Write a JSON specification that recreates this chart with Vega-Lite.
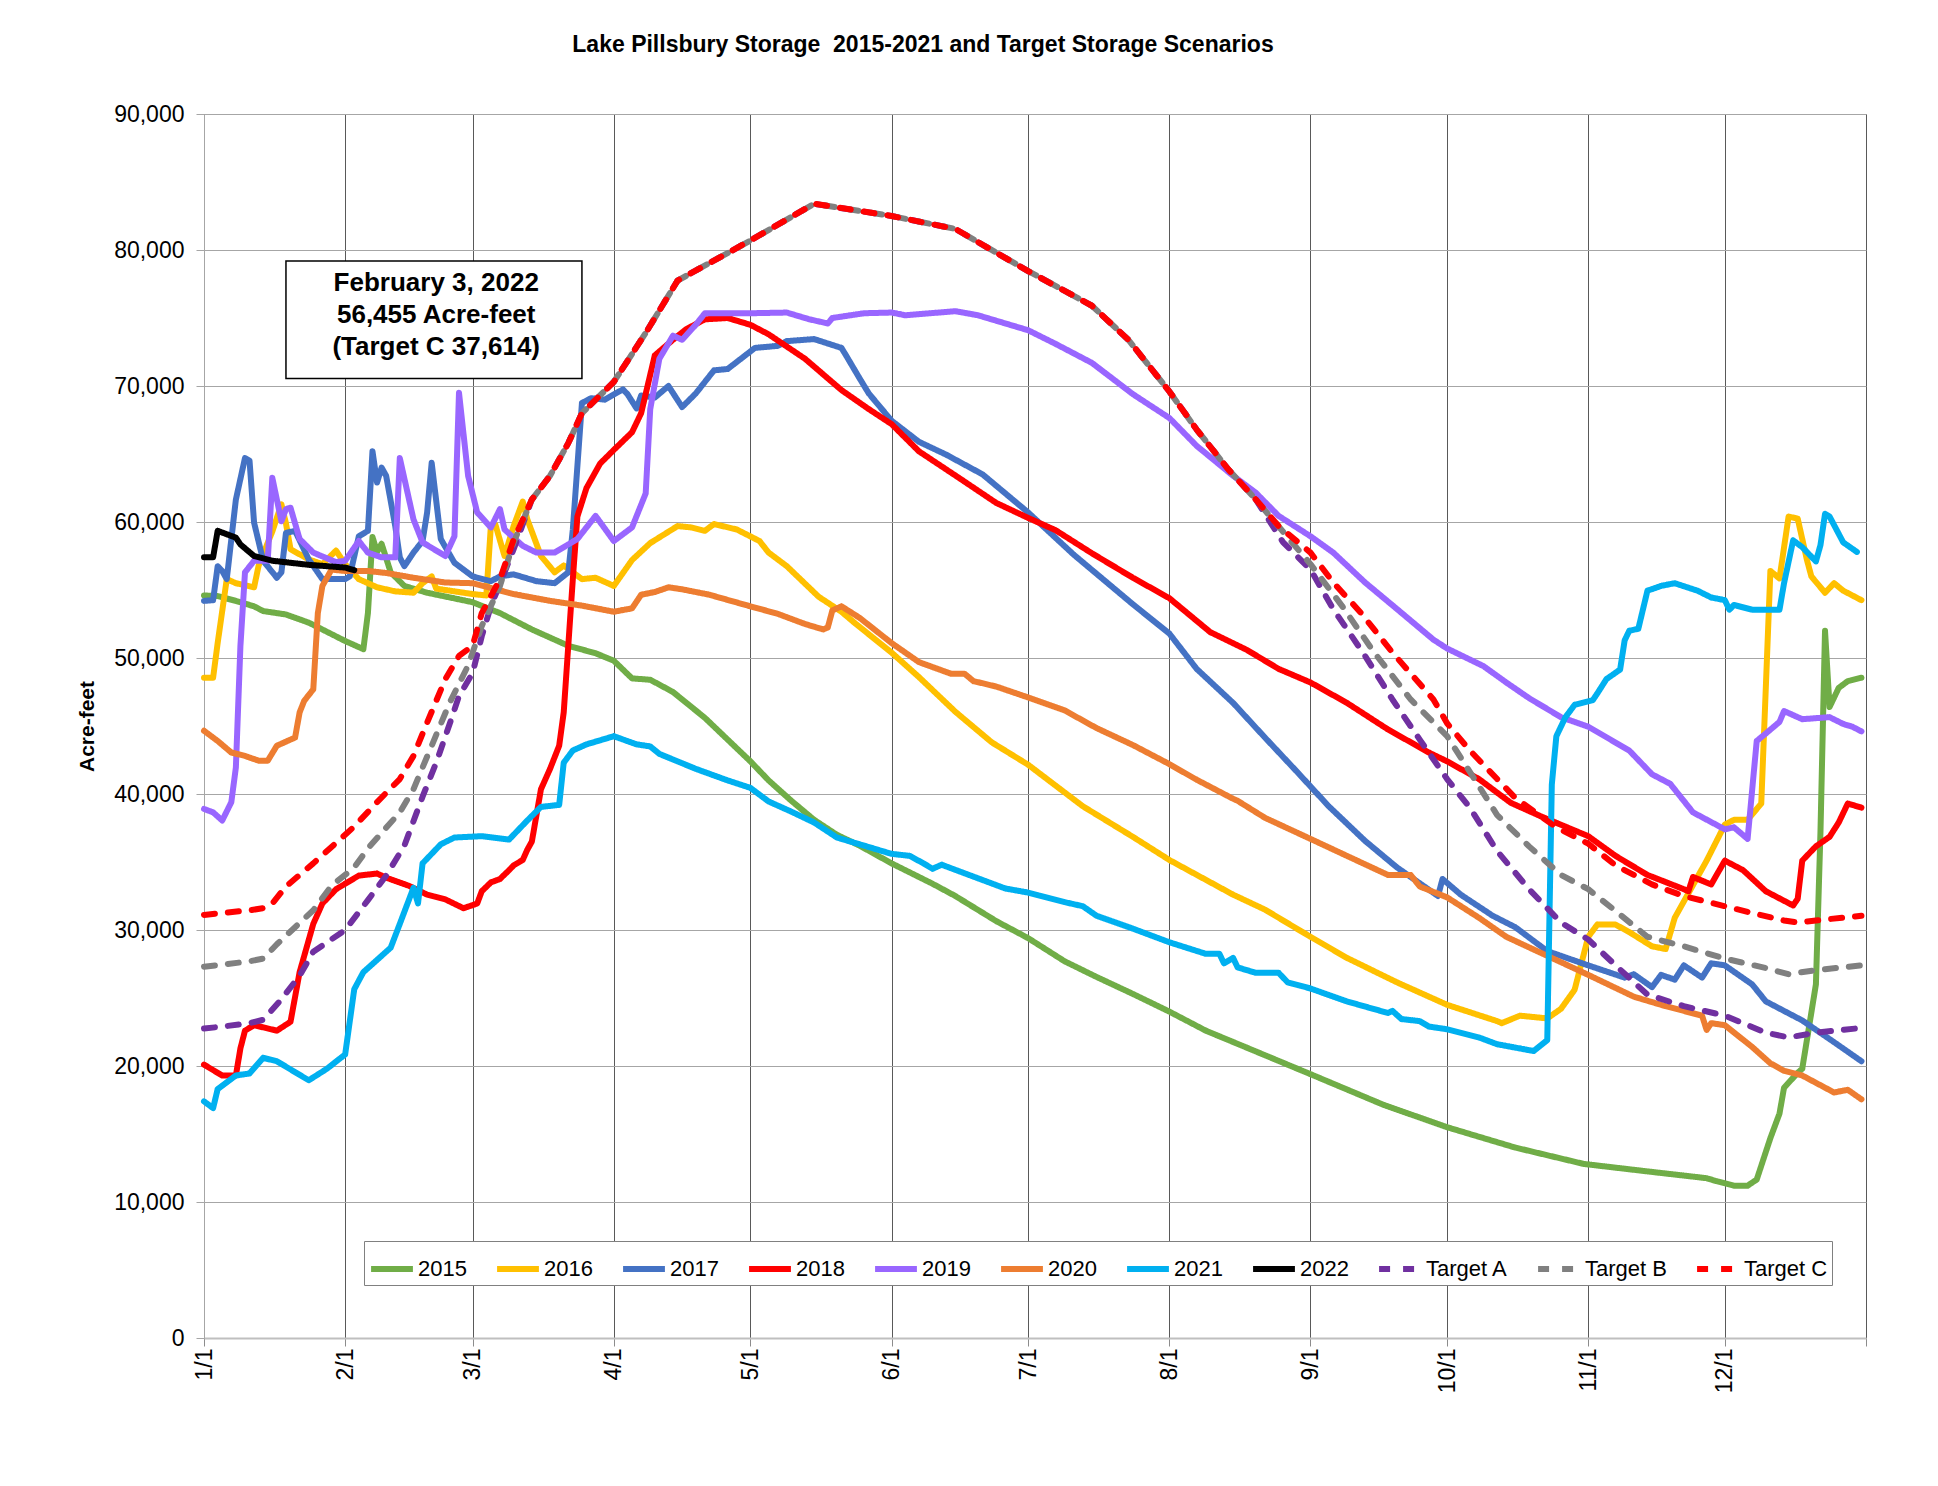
{
  "$schema": "https://vega.github.io/schema/vega-lite/v6.json",
  "width": 1662,
  "height": 1224,
  "autosize": {"type": "none"},
  "padding": {"left": 204, "top": 114, "right": 72, "bottom": 148},
  "background": "white",
  "config": {"font": "Liberation Sans", "view": {"stroke": "#8c8c8c", "strokeWidth": 1}},
  "title": {"text": "Lake Pillsbury Storage\u00a0 2015-2021 and Target Storage Scenarios", "fontSize": 23, "fontWeight": "bold", "font": "Liberation Sans", "color": "#000000", "anchor": "middle", "dx": -112, "offset": 46},
  "datasets": {
    "box": [{"start": "2021-01-19", "end": "2021-03-25", "low": 70550, "high": 79200}],
    "note": [
      {"date": "2021-02-21", "value": 77550, "label": "February 3, 2022"},
      {"date": "2021-02-21", "value": 75200, "label": "56,455 Acre-feet"},
      {"date": "2021-02-21", "value": 72850, "label": "(Target C 37,614)"}
    ],
    "storage": [
      {"series":"2015","date":"2021-01-01","value":54600},{"series":"2015","date":"2021-01-04","value":54550},{"series":"2015","date":"2021-01-08","value":54200},{"series":"2015","date":"2021-01-12","value":53800},{"series":"2015","date":"2021-01-14","value":53450},{"series":"2015","date":"2021-01-19","value":53200},{"series":"2015","date":"2021-01-24","value":52600},{"series":"2015","date":"2021-02-01","value":51250},{"series":"2015","date":"2021-02-05","value":50650},{"series":"2015","date":"2021-02-06","value":53300},{"series":"2015","date":"2021-02-07","value":58900},{"series":"2015","date":"2021-02-08","value":57800},{"series":"2015","date":"2021-02-09","value":58400},{"series":"2015","date":"2021-02-11","value":56300},{"series":"2015","date":"2021-02-14","value":55300},{"series":"2015","date":"2021-02-19","value":54800},{"series":"2015","date":"2021-03-01","value":54100},{"series":"2015","date":"2021-03-07","value":53300},{"series":"2015","date":"2021-03-14","value":52100},{"series":"2015","date":"2021-03-22","value":50900},{"series":"2015","date":"2021-03-28","value":50350},{"series":"2015","date":"2021-04-01","value":49800},{"series":"2015","date":"2021-04-05","value":48500},{"series":"2015","date":"2021-04-09","value":48400},{"series":"2015","date":"2021-04-14","value":47500},{"series":"2015","date":"2021-04-21","value":45600},{"series":"2015","date":"2021-05-01","value":42400},{"series":"2015","date":"2021-05-05","value":41000},{"series":"2015","date":"2021-05-10","value":39500},{"series":"2015","date":"2021-05-15","value":38100},{"series":"2015","date":"2021-05-20","value":37000},{"series":"2015","date":"2021-05-25","value":36200},{"series":"2015","date":"2021-06-01","value":34900},{"series":"2015","date":"2021-06-10","value":33400},{"series":"2015","date":"2021-06-15","value":32500},{"series":"2015","date":"2021-06-24","value":30650},{"series":"2015","date":"2021-07-01","value":29400},{"series":"2015","date":"2021-07-09","value":27700},{"series":"2015","date":"2021-07-16","value":26550},{"series":"2015","date":"2021-07-24","value":25300},{"series":"2015","date":"2021-08-01","value":24000},{"series":"2015","date":"2021-08-09","value":22600},{"series":"2015","date":"2021-08-18","value":21350},{"series":"2015","date":"2021-09-01","value":19400},{"series":"2015","date":"2021-09-17","value":17150},{"series":"2015","date":"2021-10-01","value":15500},{"series":"2015","date":"2021-10-16","value":14000},{"series":"2015","date":"2021-10-31","value":12800},{"series":"2015","date":"2021-11-14","value":12250},{"series":"2015","date":"2021-11-27","value":11750},{"series":"2015","date":"2021-11-29","value":11550},{"series":"2015","date":"2021-12-03","value":11200},{"series":"2015","date":"2021-12-06","value":11200},{"series":"2015","date":"2021-12-08","value":11650},{"series":"2015","date":"2021-12-11","value":14700},{"series":"2015","date":"2021-12-13","value":16500},{"series":"2015","date":"2021-12-14","value":18400},{"series":"2015","date":"2021-12-17","value":19500},{"series":"2015","date":"2021-12-18","value":19800},{"series":"2015","date":"2021-12-21","value":26000},{"series":"2015","date":"2021-12-22","value":37200},{"series":"2015","date":"2021-12-23","value":52000},{"series":"2015","date":"2021-12-24","value":46400},{"series":"2015","date":"2021-12-26","value":47800},{"series":"2015","date":"2021-12-28","value":48300},{"series":"2015","date":"2021-12-31","value":48550},

      {"series":"2016","date":"2021-01-01","value":48550},{"series":"2016","date":"2021-01-03","value":48550},{"series":"2016","date":"2021-01-04","value":51100},{"series":"2016","date":"2021-01-06","value":55800},{"series":"2016","date":"2021-01-08","value":55500},{"series":"2016","date":"2021-01-12","value":55200},{"series":"2016","date":"2021-01-13","value":56800},{"series":"2016","date":"2021-01-16","value":59300},{"series":"2016","date":"2021-01-18","value":61300},{"series":"2016","date":"2021-01-19","value":59900},{"series":"2016","date":"2021-01-20","value":58000},{"series":"2016","date":"2021-01-24","value":57250},{"series":"2016","date":"2021-01-27","value":56900},{"series":"2016","date":"2021-01-30","value":57900},{"series":"2016","date":"2021-02-01","value":56900},{"series":"2016","date":"2021-02-04","value":55800},{"series":"2016","date":"2021-02-08","value":55200},{"series":"2016","date":"2021-02-12","value":54900},{"series":"2016","date":"2021-02-16","value":54800},{"series":"2016","date":"2021-02-18","value":55500},{"series":"2016","date":"2021-02-20","value":56000},{"series":"2016","date":"2021-02-21","value":55100},{"series":"2016","date":"2021-03-01","value":54700},{"series":"2016","date":"2021-03-04","value":54600},{"series":"2016","date":"2021-03-05","value":59700},{"series":"2016","date":"2021-03-06","value":59800},{"series":"2016","date":"2021-03-08","value":57500},{"series":"2016","date":"2021-03-10","value":59700},{"series":"2016","date":"2021-03-12","value":61500},{"series":"2016","date":"2021-03-13","value":60200},{"series":"2016","date":"2021-03-16","value":57500},{"series":"2016","date":"2021-03-19","value":56300},{"series":"2016","date":"2021-03-21","value":56800},{"series":"2016","date":"2021-03-25","value":55800},{"series":"2016","date":"2021-03-28","value":55900},{"series":"2016","date":"2021-04-01","value":55300},{"series":"2016","date":"2021-04-05","value":57200},{"series":"2016","date":"2021-04-09","value":58450},{"series":"2016","date":"2021-04-15","value":59700},{"series":"2016","date":"2021-04-18","value":59600},{"series":"2016","date":"2021-04-21","value":59350},{"series":"2016","date":"2021-04-23","value":59850},{"series":"2016","date":"2021-04-28","value":59450},{"series":"2016","date":"2021-05-03","value":58600},{"series":"2016","date":"2021-05-05","value":57750},{"series":"2016","date":"2021-05-09","value":56750},{"series":"2016","date":"2021-05-16","value":54500},{"series":"2016","date":"2021-05-21","value":53400},{"series":"2016","date":"2021-05-24","value":52550},{"series":"2016","date":"2021-06-01","value":50400},{"series":"2016","date":"2021-06-07","value":48600},{"series":"2016","date":"2021-06-15","value":46050},{"series":"2016","date":"2021-06-23","value":43800},{"series":"2016","date":"2021-07-01","value":42150},{"series":"2016","date":"2021-07-13","value":39100},{"series":"2016","date":"2021-07-24","value":36850},{"series":"2016","date":"2021-08-01","value":35150},{"series":"2016","date":"2021-08-15","value":32600},{"series":"2016","date":"2021-08-22","value":31500},{"series":"2016","date":"2021-09-01","value":29500},{"series":"2016","date":"2021-09-09","value":27950},{"series":"2016","date":"2021-09-20","value":26150},{"series":"2016","date":"2021-10-01","value":24500},{"series":"2016","date":"2021-10-12","value":23300},{"series":"2016","date":"2021-10-13","value":23150},{"series":"2016","date":"2021-10-17","value":23700},{"series":"2016","date":"2021-10-23","value":23500},{"series":"2016","date":"2021-10-26","value":24200},{"series":"2016","date":"2021-10-29","value":25600},{"series":"2016","date":"2021-11-01","value":29500},{"series":"2016","date":"2021-11-03","value":30400},{"series":"2016","date":"2021-11-07","value":30400},{"series":"2016","date":"2021-11-10","value":29850},{"series":"2016","date":"2021-11-15","value":28800},{"series":"2016","date":"2021-11-18","value":28600},{"series":"2016","date":"2021-11-20","value":30900},{"series":"2016","date":"2021-11-22","value":32100},{"series":"2016","date":"2021-11-27","value":35100},{"series":"2016","date":"2021-12-01","value":37750},{"series":"2016","date":"2021-12-03","value":38100},{"series":"2016","date":"2021-12-06","value":38100},{"series":"2016","date":"2021-12-09","value":39300},{"series":"2016","date":"2021-12-11","value":56400},{"series":"2016","date":"2021-12-13","value":55850},{"series":"2016","date":"2021-12-15","value":60400},{"series":"2016","date":"2021-12-17","value":60250},{"series":"2016","date":"2021-12-19","value":57250},{"series":"2016","date":"2021-12-20","value":56000},{"series":"2016","date":"2021-12-23","value":54800},{"series":"2016","date":"2021-12-25","value":55500},{"series":"2016","date":"2021-12-27","value":54950},{"series":"2016","date":"2021-12-31","value":54250},

      {"series":"2017","date":"2021-01-01","value":54200},{"series":"2017","date":"2021-01-03","value":54250},{"series":"2017","date":"2021-01-04","value":56750},{"series":"2017","date":"2021-01-05","value":56400},{"series":"2017","date":"2021-01-06","value":55800},{"series":"2017","date":"2021-01-08","value":61650},{"series":"2017","date":"2021-01-10","value":64700},{"series":"2017","date":"2021-01-11","value":64500},{"series":"2017","date":"2021-01-12","value":59950},{"series":"2017","date":"2021-01-14","value":57150},{"series":"2017","date":"2021-01-17","value":55900},{"series":"2017","date":"2021-01-18","value":56300},{"series":"2017","date":"2021-01-19","value":59200},{"series":"2017","date":"2021-01-21","value":59350},{"series":"2017","date":"2021-01-24","value":57250},{"series":"2017","date":"2021-01-27","value":55800},{"series":"2017","date":"2021-02-01","value":55800},{"series":"2017","date":"2021-02-02","value":56000},{"series":"2017","date":"2021-02-04","value":58950},{"series":"2017","date":"2021-02-06","value":59350},{"series":"2017","date":"2021-02-07","value":65200},{"series":"2017","date":"2021-02-08","value":62900},{"series":"2017","date":"2021-02-09","value":64000},{"series":"2017","date":"2021-02-10","value":63400},{"series":"2017","date":"2021-02-12","value":59700},{"series":"2017","date":"2021-02-13","value":57400},{"series":"2017","date":"2021-02-14","value":56750},{"series":"2017","date":"2021-02-16","value":57750},{"series":"2017","date":"2021-02-18","value":58600},{"series":"2017","date":"2021-02-19","value":60700},{"series":"2017","date":"2021-02-20","value":64350},{"series":"2017","date":"2021-02-22","value":58750},{"series":"2017","date":"2021-02-25","value":57000},{"series":"2017","date":"2021-03-01","value":56000},{"series":"2017","date":"2021-03-05","value":55650},{"series":"2017","date":"2021-03-07","value":56000},{"series":"2017","date":"2021-03-10","value":56150},{"series":"2017","date":"2021-03-15","value":55650},{"series":"2017","date":"2021-03-19","value":55500},{"series":"2017","date":"2021-03-22","value":56300},{"series":"2017","date":"2021-03-23","value":59450},{"series":"2017","date":"2021-03-25","value":68750},{"series":"2017","date":"2021-03-27","value":69100},{"series":"2017","date":"2021-03-30","value":69000},{"series":"2017","date":"2021-04-03","value":69750},{"series":"2017","date":"2021-04-04","value":69400},{"series":"2017","date":"2021-04-06","value":68350},{"series":"2017","date":"2021-04-07","value":69300},{"series":"2017","date":"2021-04-10","value":69150},{"series":"2017","date":"2021-04-13","value":70000},{"series":"2017","date":"2021-04-16","value":68450},{"series":"2017","date":"2021-04-19","value":69450},{"series":"2017","date":"2021-04-23","value":71150},{"series":"2017","date":"2021-04-26","value":71250},{"series":"2017","date":"2021-05-02","value":72800},{"series":"2017","date":"2021-05-07","value":72950},{"series":"2017","date":"2021-05-09","value":73300},{"series":"2017","date":"2021-05-15","value":73450},{"series":"2017","date":"2021-05-21","value":72800},{"series":"2017","date":"2021-05-22","value":72250},{"series":"2017","date":"2021-05-25","value":70550},{"series":"2017","date":"2021-05-27","value":69450},{"series":"2017","date":"2021-06-01","value":67450},{"series":"2017","date":"2021-06-07","value":65900},{"series":"2017","date":"2021-06-13","value":64950},{"series":"2017","date":"2021-06-21","value":63500},{"series":"2017","date":"2021-07-01","value":60700},{"series":"2017","date":"2021-07-11","value":57600},{"series":"2017","date":"2021-07-24","value":53950},{"series":"2017","date":"2021-08-01","value":51800},{"series":"2017","date":"2021-08-07","value":49200},{"series":"2017","date":"2021-08-15","value":46700},{"series":"2017","date":"2021-08-22","value":44150},{"series":"2017","date":"2021-08-29","value":41650},{"series":"2017","date":"2021-09-05","value":39100},{"series":"2017","date":"2021-09-13","value":36550},{"series":"2017","date":"2021-09-20","value":34600},{"series":"2017","date":"2021-09-29","value":32500},{"series":"2017","date":"2021-09-30","value":33750},{"series":"2017","date":"2021-10-04","value":32600},{"series":"2017","date":"2021-10-11","value":31050},{"series":"2017","date":"2021-10-16","value":30200},{"series":"2017","date":"2021-10-23","value":28450},{"series":"2017","date":"2021-11-01","value":27400},{"series":"2017","date":"2021-11-09","value":26500},{"series":"2017","date":"2021-11-11","value":26750},{"series":"2017","date":"2021-11-15","value":25800},{"series":"2017","date":"2021-11-17","value":26700},{"series":"2017","date":"2021-11-20","value":26350},{"series":"2017","date":"2021-11-22","value":27400},{"series":"2017","date":"2021-11-26","value":26500},{"series":"2017","date":"2021-11-28","value":27550},{"series":"2017","date":"2021-12-01","value":27400},{"series":"2017","date":"2021-12-07","value":26000},{"series":"2017","date":"2021-12-10","value":24750},{"series":"2017","date":"2021-12-18","value":23350},{"series":"2017","date":"2021-12-25","value":21750},{"series":"2017","date":"2021-12-31","value":20350},

      {"series":"2018","date":"2021-01-01","value":20100},{"series":"2018","date":"2021-01-05","value":19300},{"series":"2018","date":"2021-01-08","value":19300},{"series":"2018","date":"2021-01-09","value":21300},{"series":"2018","date":"2021-01-10","value":22600},{"series":"2018","date":"2021-01-12","value":23000},{"series":"2018","date":"2021-01-17","value":22600},{"series":"2018","date":"2021-01-20","value":23250},{"series":"2018","date":"2021-01-22","value":26900},{"series":"2018","date":"2021-01-25","value":30450},{"series":"2018","date":"2021-01-27","value":31950},{"series":"2018","date":"2021-01-30","value":33000},{"series":"2018","date":"2021-02-04","value":34000},{"series":"2018","date":"2021-02-08","value":34150},{"series":"2018","date":"2021-02-10","value":33850},{"series":"2018","date":"2021-02-15","value":33250},{"series":"2018","date":"2021-02-19","value":32600},{"series":"2018","date":"2021-02-23","value":32250},{"series":"2018","date":"2021-02-27","value":31600},{"series":"2018","date":"2021-03-02","value":31950},{"series":"2018","date":"2021-03-03","value":32850},{"series":"2018","date":"2021-03-05","value":33500},{"series":"2018","date":"2021-03-07","value":33750},{"series":"2018","date":"2021-03-09","value":34400},{"series":"2018","date":"2021-03-10","value":34750},{"series":"2018","date":"2021-03-12","value":35150},{"series":"2018","date":"2021-03-13","value":35900},{"series":"2018","date":"2021-03-14","value":36500},{"series":"2018","date":"2021-03-16","value":40350},{"series":"2018","date":"2021-03-18","value":41850},{"series":"2018","date":"2021-03-20","value":43550},{"series":"2018","date":"2021-03-21","value":46000},{"series":"2018","date":"2021-03-23","value":55800},{"series":"2018","date":"2021-03-24","value":60400},{"series":"2018","date":"2021-03-26","value":62500},{"series":"2018","date":"2021-03-29","value":64300},{"series":"2018","date":"2021-04-01","value":65300},{"series":"2018","date":"2021-04-05","value":66600},{"series":"2018","date":"2021-04-07","value":68000},{"series":"2018","date":"2021-04-10","value":72250},{"series":"2018","date":"2021-04-14","value":73400},{"series":"2018","date":"2021-04-17","value":74200},{"series":"2018","date":"2021-04-21","value":74900},{"series":"2018","date":"2021-04-26","value":75000},{"series":"2018","date":"2021-05-01","value":74500},{"series":"2018","date":"2021-05-05","value":73800},{"series":"2018","date":"2021-05-13","value":72000},{"series":"2018","date":"2021-05-21","value":69700},{"series":"2018","date":"2021-05-27","value":68300},{"series":"2018","date":"2021-06-01","value":67200},{"series":"2018","date":"2021-06-07","value":65200},{"series":"2018","date":"2021-06-16","value":63200},{"series":"2018","date":"2021-06-24","value":61400},{"series":"2018","date":"2021-07-01","value":60300},{"series":"2018","date":"2021-07-07","value":59400},{"series":"2018","date":"2021-07-15","value":57700},{"series":"2018","date":"2021-07-24","value":55900},{"series":"2018","date":"2021-08-01","value":54400},{"series":"2018","date":"2021-08-10","value":51900},{"series":"2018","date":"2021-08-18","value":50600},{"series":"2018","date":"2021-08-25","value":49200},{"series":"2018","date":"2021-09-01","value":48200},{"series":"2018","date":"2021-09-09","value":46700},{"series":"2018","date":"2021-09-18","value":44750},{"series":"2018","date":"2021-09-27","value":43050},{"series":"2018","date":"2021-10-01","value":42400},{"series":"2018","date":"2021-10-08","value":41100},{"series":"2018","date":"2021-10-15","value":39350},{"series":"2018","date":"2021-10-22","value":38300},{"series":"2018","date":"2021-11-01","value":36900},{"series":"2018","date":"2021-11-07","value":35450},{"series":"2018","date":"2021-11-14","value":34050},{"series":"2018","date":"2021-11-22","value":33000},{"series":"2018","date":"2021-11-23","value":32850},{"series":"2018","date":"2021-11-24","value":33900},{"series":"2018","date":"2021-11-28","value":33350},{"series":"2018","date":"2021-12-01","value":35100},{"series":"2018","date":"2021-12-05","value":34400},{"series":"2018","date":"2021-12-10","value":32850},{"series":"2018","date":"2021-12-14","value":32150},{"series":"2018","date":"2021-12-16","value":31800},{"series":"2018","date":"2021-12-17","value":32300},{"series":"2018","date":"2021-12-18","value":35100},{"series":"2018","date":"2021-12-21","value":36150},{"series":"2018","date":"2021-12-24","value":36850},{"series":"2018","date":"2021-12-26","value":37900},{"series":"2018","date":"2021-12-28","value":39300},{"series":"2018","date":"2021-12-31","value":39000},

      {"series":"2019","date":"2021-01-01","value":38900},{"series":"2019","date":"2021-01-03","value":38650},{"series":"2019","date":"2021-01-05","value":38050},{"series":"2019","date":"2021-01-07","value":39400},{"series":"2019","date":"2021-01-08","value":41950},{"series":"2019","date":"2021-01-09","value":50900},{"series":"2019","date":"2021-01-10","value":56300},{"series":"2019","date":"2021-01-12","value":57150},{"series":"2019","date":"2021-01-15","value":57150},{"series":"2019","date":"2021-01-16","value":63250},{"series":"2019","date":"2021-01-18","value":60050},{"series":"2019","date":"2021-01-19","value":60950},{"series":"2019","date":"2021-01-20","value":61050},{"series":"2019","date":"2021-01-22","value":58750},{"series":"2019","date":"2021-01-25","value":57750},{"series":"2019","date":"2021-01-30","value":57050},{"series":"2019","date":"2021-02-01","value":57150},{"series":"2019","date":"2021-02-04","value":58600},{"series":"2019","date":"2021-02-06","value":57750},{"series":"2019","date":"2021-02-09","value":57400},{"series":"2019","date":"2021-02-12","value":57400},{"series":"2019","date":"2021-02-13","value":64700},{"series":"2019","date":"2021-02-16","value":60200},{"series":"2019","date":"2021-02-18","value":58500},{"series":"2019","date":"2021-02-23","value":57500},{"series":"2019","date":"2021-02-25","value":58950},{"series":"2019","date":"2021-02-26","value":69500},{"series":"2019","date":"2021-02-28","value":63400},{"series":"2019","date":"2021-03-02","value":60700},{"series":"2019","date":"2021-03-05","value":59600},{"series":"2019","date":"2021-03-07","value":60950},{"series":"2019","date":"2021-03-08","value":59450},{"series":"2019","date":"2021-03-12","value":58250},{"series":"2019","date":"2021-03-15","value":57750},{"series":"2019","date":"2021-03-19","value":57750},{"series":"2019","date":"2021-03-22","value":58350},{"series":"2019","date":"2021-03-24","value":58750},{"series":"2019","date":"2021-03-28","value":60450},{"series":"2019","date":"2021-04-01","value":58600},{"series":"2019","date":"2021-04-05","value":59600},{"series":"2019","date":"2021-04-08","value":62100},{"series":"2019","date":"2021-04-09","value":68300},{"series":"2019","date":"2021-04-11","value":72000},{"series":"2019","date":"2021-04-14","value":73700},{"series":"2019","date":"2021-04-16","value":73400},{"series":"2019","date":"2021-04-19","value":74500},{"series":"2019","date":"2021-04-21","value":75350},{"series":"2019","date":"2021-05-01","value":75350},{"series":"2019","date":"2021-05-09","value":75400},{"series":"2019","date":"2021-05-14","value":74900},{"series":"2019","date":"2021-05-18","value":74600},{"series":"2019","date":"2021-05-19","value":75000},{"series":"2019","date":"2021-05-26","value":75350},{"series":"2019","date":"2021-06-01","value":75400},{"series":"2019","date":"2021-06-04","value":75200},{"series":"2019","date":"2021-06-15","value":75500},{"series":"2019","date":"2021-06-20","value":75200},{"series":"2019","date":"2021-07-01","value":74100},{"series":"2019","date":"2021-07-07","value":73100},{"series":"2019","date":"2021-07-15","value":71700},{"series":"2019","date":"2021-07-24","value":69400},{"series":"2019","date":"2021-08-01","value":67650},{"series":"2019","date":"2021-08-07","value":65600},{"series":"2019","date":"2021-08-15","value":63400},{"series":"2019","date":"2021-08-20","value":62150},{"series":"2019","date":"2021-08-25","value":60450},{"series":"2019","date":"2021-09-01","value":58950},{"series":"2019","date":"2021-09-06","value":57750},{"series":"2019","date":"2021-09-13","value":55550},{"series":"2019","date":"2021-09-20","value":53600},{"series":"2019","date":"2021-09-28","value":51350},{"series":"2019","date":"2021-10-01","value":50700},{"series":"2019","date":"2021-10-09","value":49400},{"series":"2019","date":"2021-10-14","value":48200},{"series":"2019","date":"2021-10-19","value":47050},{"series":"2019","date":"2021-10-26","value":45650},{"series":"2019","date":"2021-11-01","value":44950},{"series":"2019","date":"2021-11-10","value":43200},{"series":"2019","date":"2021-11-15","value":41450},{"series":"2019","date":"2021-11-19","value":40750},{"series":"2019","date":"2021-11-24","value":38650},{"series":"2019","date":"2021-12-01","value":37400},{"series":"2019","date":"2021-12-03","value":37550},{"series":"2019","date":"2021-12-06","value":36700},{"series":"2019","date":"2021-12-08","value":43900},{"series":"2019","date":"2021-12-10","value":44450},{"series":"2019","date":"2021-12-13","value":45300},{"series":"2019","date":"2021-12-14","value":46100},{"series":"2019","date":"2021-12-18","value":45500},{"series":"2019","date":"2021-12-24","value":45650},{"series":"2019","date":"2021-12-27","value":45150},{"series":"2019","date":"2021-12-29","value":44950},{"series":"2019","date":"2021-12-31","value":44600},

      {"series":"2020","date":"2021-01-01","value":44650},{"series":"2020","date":"2021-01-04","value":43900},{"series":"2020","date":"2021-01-07","value":43050},{"series":"2020","date":"2021-01-10","value":42800},{"series":"2020","date":"2021-01-13","value":42450},{"series":"2020","date":"2021-01-15","value":42450},{"series":"2020","date":"2021-01-17","value":43550},{"series":"2020","date":"2021-01-21","value":44150},{"series":"2020","date":"2021-01-22","value":46000},{"series":"2020","date":"2021-01-23","value":46850},{"series":"2020","date":"2021-01-25","value":47700},{"series":"2020","date":"2021-01-26","value":53300},{"series":"2020","date":"2021-01-27","value":55300},{"series":"2020","date":"2021-01-29","value":56500},{"series":"2020","date":"2021-02-01","value":56400},{"series":"2020","date":"2021-02-06","value":56400},{"series":"2020","date":"2021-02-10","value":56250},{"series":"2020","date":"2021-02-16","value":55900},{"series":"2020","date":"2021-02-23","value":55550},{"series":"2020","date":"2021-03-01","value":55500},{"series":"2020","date":"2021-03-05","value":55150},{"series":"2020","date":"2021-03-10","value":54700},{"series":"2020","date":"2021-03-18","value":54200},{"series":"2020","date":"2021-03-25","value":53850},{"series":"2020","date":"2021-04-01","value":53400},{"series":"2020","date":"2021-04-05","value":53650},{"series":"2020","date":"2021-04-07","value":54650},{"series":"2020","date":"2021-04-10","value":54850},{"series":"2020","date":"2021-04-13","value":55200},{"series":"2020","date":"2021-04-16","value":55050},{"series":"2020","date":"2021-04-22","value":54650},{"series":"2020","date":"2021-05-01","value":53800},{"series":"2020","date":"2021-05-07","value":53250},{"series":"2020","date":"2021-05-13","value":52500},{"series":"2020","date":"2021-05-17","value":52100},{"series":"2020","date":"2021-05-18","value":52250},{"series":"2020","date":"2021-05-19","value":53500},{"series":"2020","date":"2021-05-21","value":53800},{"series":"2020","date":"2021-05-25","value":52950},{"series":"2020","date":"2021-06-01","value":51100},{"series":"2020","date":"2021-06-07","value":49700},{"series":"2020","date":"2021-06-14","value":48850},{"series":"2020","date":"2021-06-17","value":48850},{"series":"2020","date":"2021-06-19","value":48300},{"series":"2020","date":"2021-06-24","value":47900},{"series":"2020","date":"2021-07-01","value":47100},{"series":"2020","date":"2021-07-09","value":46150},{"series":"2020","date":"2021-07-16","value":44850},{"series":"2020","date":"2021-07-24","value":43600},{"series":"2020","date":"2021-08-01","value":42200},{"series":"2020","date":"2021-08-07","value":41050},{"series":"2020","date":"2021-08-15","value":39650},{"series":"2020","date":"2021-08-16","value":39500},{"series":"2020","date":"2021-08-22","value":38250},{"series":"2020","date":"2021-09-01","value":36700},{"series":"2020","date":"2021-09-09","value":35450},{"series":"2020","date":"2021-09-18","value":34050},{"series":"2020","date":"2021-09-23","value":34050},{"series":"2020","date":"2021-09-25","value":33200},{"series":"2020","date":"2021-10-01","value":32400},{"series":"2020","date":"2021-10-08","value":30900},{"series":"2020","date":"2021-10-14","value":29500},{"series":"2020","date":"2021-10-23","value":28100},{"series":"2020","date":"2021-11-01","value":26700},{"series":"2020","date":"2021-11-11","value":25100},{"series":"2020","date":"2021-11-18","value":24400},{"series":"2020","date":"2021-11-26","value":23700},{"series":"2020","date":"2021-11-27","value":22650},{"series":"2020","date":"2021-11-28","value":23150},{"series":"2020","date":"2021-12-01","value":23000},{"series":"2020","date":"2021-12-07","value":21400},{"series":"2020","date":"2021-12-11","value":20200},{"series":"2020","date":"2021-12-14","value":19650},{"series":"2020","date":"2021-12-18","value":19300},{"series":"2020","date":"2021-12-25","value":18050},{"series":"2020","date":"2021-12-28","value":18250},{"series":"2020","date":"2021-12-31","value":17550},

      {"series":"2021","date":"2021-01-01","value":17400},{"series":"2021","date":"2021-01-03","value":16900},{"series":"2021","date":"2021-01-04","value":18300},{"series":"2021","date":"2021-01-08","value":19300},{"series":"2021","date":"2021-01-11","value":19450},{"series":"2021","date":"2021-01-14","value":20600},{"series":"2021","date":"2021-01-17","value":20350},{"series":"2021","date":"2021-01-24","value":18950},{"series":"2021","date":"2021-01-28","value":19800},{"series":"2021","date":"2021-02-01","value":20850},{"series":"2021","date":"2021-02-03","value":25650},{"series":"2021","date":"2021-02-05","value":26900},{"series":"2021","date":"2021-02-11","value":28700},{"series":"2021","date":"2021-02-13","value":30450},{"series":"2021","date":"2021-02-16","value":33100},{"series":"2021","date":"2021-02-17","value":31950},{"series":"2021","date":"2021-02-18","value":34900},{"series":"2021","date":"2021-02-22","value":36300},{"series":"2021","date":"2021-02-25","value":36800},{"series":"2021","date":"2021-03-03","value":36900},{"series":"2021","date":"2021-03-09","value":36650},{"series":"2021","date":"2021-03-13","value":38050},{"series":"2021","date":"2021-03-16","value":39050},{"series":"2021","date":"2021-03-20","value":39200},{"series":"2021","date":"2021-03-21","value":42300},{"series":"2021","date":"2021-03-23","value":43200},{"series":"2021","date":"2021-03-26","value":43650},{"series":"2021","date":"2021-04-01","value":44250},{"series":"2021","date":"2021-04-06","value":43650},{"series":"2021","date":"2021-04-09","value":43500},{"series":"2021","date":"2021-04-11","value":42950},{"series":"2021","date":"2021-04-19","value":41850},{"series":"2021","date":"2021-04-26","value":41000},{"series":"2021","date":"2021-05-01","value":40450},{"series":"2021","date":"2021-05-05","value":39450},{"series":"2021","date":"2021-05-10","value":38700},{"series":"2021","date":"2021-05-15","value":37900},{"series":"2021","date":"2021-05-20","value":36800},{"series":"2021","date":"2021-05-25","value":36300},{"series":"2021","date":"2021-06-01","value":35600},{"series":"2021","date":"2021-06-05","value":35450},{"series":"2021","date":"2021-06-08","value":34900},{"series":"2021","date":"2021-06-10","value":34500},{"series":"2021","date":"2021-06-12","value":34800},{"series":"2021","date":"2021-06-20","value":33800},{"series":"2021","date":"2021-06-26","value":33050},{"series":"2021","date":"2021-07-01","value":32750},{"series":"2021","date":"2021-07-09","value":32050},{"series":"2021","date":"2021-07-13","value":31750},{"series":"2021","date":"2021-07-16","value":31050},{"series":"2021","date":"2021-07-24","value":30100},{"series":"2021","date":"2021-08-01","value":29100},{"series":"2021","date":"2021-08-09","value":28250},{"series":"2021","date":"2021-08-12","value":28250},{"series":"2021","date":"2021-08-13","value":27550},{"series":"2021","date":"2021-08-15","value":27950},{"series":"2021","date":"2021-08-16","value":27250},{"series":"2021","date":"2021-08-20","value":26850},{"series":"2021","date":"2021-08-25","value":26850},{"series":"2021","date":"2021-08-27","value":26150},{"series":"2021","date":"2021-09-01","value":25700},{"series":"2021","date":"2021-09-09","value":24750},{"series":"2021","date":"2021-09-18","value":23900},{"series":"2021","date":"2021-09-19","value":24050},{"series":"2021","date":"2021-09-21","value":23450},{"series":"2021","date":"2021-09-25","value":23300},{"series":"2021","date":"2021-09-27","value":22900},{"series":"2021","date":"2021-10-01","value":22700},{"series":"2021","date":"2021-10-08","value":22100},{"series":"2021","date":"2021-10-12","value":21600},{"series":"2021","date":"2021-10-20","value":21100},{"series":"2021","date":"2021-10-23","value":21900},{"series":"2021","date":"2021-10-24","value":40700},{"series":"2021","date":"2021-10-25","value":44250},{"series":"2021","date":"2021-10-27","value":45650},{"series":"2021","date":"2021-10-29","value":46550},{"series":"2021","date":"2021-11-02","value":46900},{"series":"2021","date":"2021-11-03","value":47400},{"series":"2021","date":"2021-11-05","value":48450},{"series":"2021","date":"2021-11-08","value":49150},{"series":"2021","date":"2021-11-09","value":51300},{"series":"2021","date":"2021-11-10","value":52000},{"series":"2021","date":"2021-11-12","value":52150},{"series":"2021","date":"2021-11-13","value":53550},{"series":"2021","date":"2021-11-14","value":54950},{"series":"2021","date":"2021-11-17","value":55300},{"series":"2021","date":"2021-11-20","value":55500},{"series":"2021","date":"2021-11-25","value":54950},{"series":"2021","date":"2021-11-28","value":54450},{"series":"2021","date":"2021-12-01","value":54250},{"series":"2021","date":"2021-12-02","value":53550},{"series":"2021","date":"2021-12-03","value":53900},{"series":"2021","date":"2021-12-07","value":53550},{"series":"2021","date":"2021-12-13","value":53550},{"series":"2021","date":"2021-12-14","value":55500},{"series":"2021","date":"2021-12-16","value":58650},{"series":"2021","date":"2021-12-18","value":58150},{"series":"2021","date":"2021-12-20","value":57450},{"series":"2021","date":"2021-12-21","value":57100},{"series":"2021","date":"2021-12-22","value":58300},{"series":"2021","date":"2021-12-23","value":60600},{"series":"2021","date":"2021-12-24","value":60400},{"series":"2021","date":"2021-12-27","value":58500},{"series":"2021","date":"2021-12-30","value":57800},

      {"series":"2022","date":"2021-01-01","value":57400},{"series":"2022","date":"2021-01-03","value":57400},{"series":"2022","date":"2021-01-04","value":59350},{"series":"2022","date":"2021-01-08","value":58850},{"series":"2022","date":"2021-01-09","value":58350},{"series":"2022","date":"2021-01-12","value":57500},{"series":"2022","date":"2021-01-16","value":57150},{"series":"2022","date":"2021-01-24","value":56850},{"series":"2022","date":"2021-02-01","value":56650},{"series":"2022","date":"2021-02-03","value":56455},

      {"series":"Target A","date":"2021-01-01","value":22750},{"series":"Target A","date":"2021-01-05","value":22900},{"series":"Target A","date":"2021-01-11","value":23150},{"series":"Target A","date":"2021-01-14","value":23400},{"series":"Target A","date":"2021-01-18","value":24900},{"series":"Target A","date":"2021-01-22","value":26650},{"series":"Target A","date":"2021-01-25","value":28400},{"series":"Target A","date":"2021-02-01","value":30000},{"series":"Target A","date":"2021-02-06","value":32200},{"series":"Target A","date":"2021-02-10","value":34000},{"series":"Target A","date":"2021-02-14","value":36200},{"series":"Target A","date":"2021-02-18","value":39800},{"series":"Target A","date":"2021-02-21","value":42300},{"series":"Target A","date":"2021-02-24","value":45200},{"series":"Target A","date":"2021-02-26","value":47200},{"series":"Target A","date":"2021-03-01","value":48900},{"series":"Target A","date":"2021-03-03","value":51600},{"series":"Target A","date":"2021-03-05","value":53800},{"series":"Target A","date":"2021-03-08","value":56300},{"series":"Target A","date":"2021-03-10","value":58000},{"series":"Target A","date":"2021-03-14","value":61650},{"series":"Target A","date":"2021-03-18","value":63400},{"series":"Target A","date":"2021-03-22","value":65800},{"series":"Target A","date":"2021-03-25","value":68000},{"series":"Target A","date":"2021-04-01","value":70300},{"series":"Target A","date":"2021-04-08","value":73900},{"series":"Target A","date":"2021-04-15","value":77750},{"series":"Target A","date":"2021-05-01","value":80700},{"series":"Target A","date":"2021-05-15","value":83400},{"series":"Target A","date":"2021-06-01","value":82500},{"series":"Target A","date":"2021-06-15","value":81550},{"series":"Target A","date":"2021-07-01","value":78450},{"series":"Target A","date":"2021-07-15","value":75900},{"series":"Target A","date":"2021-07-23","value":73400},{"series":"Target A","date":"2021-08-01","value":69600},{"series":"Target A","date":"2021-08-07","value":66800},{"series":"Target A","date":"2021-08-14","value":63850},{"series":"Target A","date":"2021-08-20","value":61650},{"series":"Target A","date":"2021-08-26","value":58500},{"series":"Target A","date":"2021-09-01","value":56500},{"series":"Target A","date":"2021-09-06","value":53600},{"series":"Target A","date":"2021-09-13","value":50150},{"series":"Target A","date":"2021-09-19","value":46950},{"series":"Target A","date":"2021-09-25","value":44000},{"series":"Target A","date":"2021-10-01","value":41100},{"series":"Target A","date":"2021-10-06","value":39000},{"series":"Target A","date":"2021-10-12","value":35800},{"series":"Target A","date":"2021-10-19","value":33000},{"series":"Target A","date":"2021-10-26","value":30550},{"series":"Target A","date":"2021-11-01","value":29300},{"series":"Target A","date":"2021-11-07","value":27400},{"series":"Target A","date":"2021-11-14","value":25250},{"series":"Target A","date":"2021-11-22","value":24400},{"series":"Target A","date":"2021-12-01","value":23700},{"series":"Target A","date":"2021-12-10","value":22450},{"series":"Target A","date":"2021-12-15","value":22100},{"series":"Target A","date":"2021-12-21","value":22450},{"series":"Target A","date":"2021-12-31","value":22800},

      {"series":"Target B","date":"2021-01-01","value":27300},{"series":"Target B","date":"2021-01-05","value":27450},{"series":"Target B","date":"2021-01-11","value":27700},{"series":"Target B","date":"2021-01-14","value":27900},{"series":"Target B","date":"2021-01-17","value":28950},{"series":"Target B","date":"2021-01-21","value":30200},{"series":"Target B","date":"2021-01-25","value":31450},{"series":"Target B","date":"2021-01-29","value":33250},{"series":"Target B","date":"2021-02-03","value":34600},{"series":"Target B","date":"2021-02-06","value":36000},{"series":"Target B","date":"2021-02-13","value":38650},{"series":"Target B","date":"2021-02-16","value":40350},{"series":"Target B","date":"2021-02-20","value":43550},{"series":"Target B","date":"2021-02-24","value":46750},{"series":"Target B","date":"2021-02-28","value":49450},{"series":"Target B","date":"2021-03-03","value":52350},{"series":"Target B","date":"2021-03-07","value":55300},{"series":"Target B","date":"2021-03-10","value":58500},{"series":"Target B","date":"2021-03-14","value":61650},{"series":"Target B","date":"2021-03-18","value":63400},{"series":"Target B","date":"2021-03-22","value":65800},{"series":"Target B","date":"2021-03-25","value":68000},{"series":"Target B","date":"2021-04-01","value":70300},{"series":"Target B","date":"2021-04-08","value":73900},{"series":"Target B","date":"2021-04-15","value":77750},{"series":"Target B","date":"2021-05-01","value":80700},{"series":"Target B","date":"2021-05-15","value":83400},{"series":"Target B","date":"2021-06-01","value":82500},{"series":"Target B","date":"2021-06-15","value":81550},{"series":"Target B","date":"2021-07-01","value":78450},{"series":"Target B","date":"2021-07-15","value":75900},{"series":"Target B","date":"2021-07-23","value":73400},{"series":"Target B","date":"2021-08-01","value":69600},{"series":"Target B","date":"2021-08-07","value":66800},{"series":"Target B","date":"2021-08-14","value":63850},{"series":"Target B","date":"2021-08-20","value":61650},{"series":"Target B","date":"2021-09-01","value":56900},{"series":"Target B","date":"2021-09-08","value":53800},{"series":"Target B","date":"2021-09-15","value":50400},{"series":"Target B","date":"2021-09-23","value":46950},{"series":"Target B","date":"2021-10-01","value":44250},{"series":"Target B","date":"2021-10-07","value":41100},{"series":"Target B","date":"2021-10-12","value":38450},{"series":"Target B","date":"2021-10-19","value":36150},{"series":"Target B","date":"2021-10-26","value":34050},{"series":"Target B","date":"2021-11-01","value":33000},{"series":"Target B","date":"2021-11-07","value":31400},{"series":"Target B","date":"2021-11-14","value":29500},{"series":"Target B","date":"2021-11-22","value":28800},{"series":"Target B","date":"2021-12-01","value":27900},{"series":"Target B","date":"2021-12-10","value":27200},{"series":"Target B","date":"2021-12-15","value":26750},{"series":"Target B","date":"2021-12-21","value":27050},{"series":"Target B","date":"2021-12-31","value":27400},

      {"series":"Target C","date":"2021-01-01","value":31100},{"series":"Target C","date":"2021-01-05","value":31250},{"series":"Target C","date":"2021-01-11","value":31450},{"series":"Target C","date":"2021-01-14","value":31600},{"series":"Target C","date":"2021-01-16","value":31950},{"series":"Target C","date":"2021-01-19","value":33200},{"series":"Target C","date":"2021-01-25","value":34900},{"series":"Target C","date":"2021-02-01","value":37000},{"series":"Target C","date":"2021-02-03","value":37614},{"series":"Target C","date":"2021-02-08","value":39400},{"series":"Target C","date":"2021-02-13","value":41100},{"series":"Target C","date":"2021-02-16","value":42800},{"series":"Target C","date":"2021-02-19","value":45250},{"series":"Target C","date":"2021-02-23","value":48450},{"series":"Target C","date":"2021-02-26","value":50150},{"series":"Target C","date":"2021-03-01","value":50900},{"series":"Target C","date":"2021-03-03","value":53300},{"series":"Target C","date":"2021-03-07","value":55800},{"series":"Target C","date":"2021-03-10","value":58700},{"series":"Target C","date":"2021-03-14","value":61650},{"series":"Target C","date":"2021-03-18","value":63400},{"series":"Target C","date":"2021-03-22","value":65800},{"series":"Target C","date":"2021-03-25","value":68000},{"series":"Target C","date":"2021-04-01","value":70300},{"series":"Target C","date":"2021-04-08","value":73900},{"series":"Target C","date":"2021-04-15","value":77750},{"series":"Target C","date":"2021-05-01","value":80700},{"series":"Target C","date":"2021-05-15","value":83400},{"series":"Target C","date":"2021-06-01","value":82500},{"series":"Target C","date":"2021-06-15","value":81550},{"series":"Target C","date":"2021-07-01","value":78450},{"series":"Target C","date":"2021-07-15","value":75900},{"series":"Target C","date":"2021-07-23","value":73400},{"series":"Target C","date":"2021-08-01","value":69600},{"series":"Target C","date":"2021-08-07","value":66800},{"series":"Target C","date":"2021-08-14","value":63850},{"series":"Target C","date":"2021-08-20","value":61650},{"series":"Target C","date":"2021-08-25","value":59700},{"series":"Target C","date":"2021-09-01","value":57750},{"series":"Target C","date":"2021-09-06","value":55550},{"series":"Target C","date":"2021-09-12","value":53350},{"series":"Target C","date":"2021-09-19","value":50400},{"series":"Target C","date":"2021-09-28","value":46950},{"series":"Target C","date":"2021-10-01","value":45200},{"series":"Target C","date":"2021-10-06","value":43200},{"series":"Target C","date":"2021-10-12","value":41100},{"series":"Target C","date":"2021-10-16","value":39700},{"series":"Target C","date":"2021-10-25","value":37550},{"series":"Target C","date":"2021-11-01","value":36350},{"series":"Target C","date":"2021-11-07","value":34750},{"series":"Target C","date":"2021-11-15","value":33350},{"series":"Target C","date":"2021-11-22","value":32500},{"series":"Target C","date":"2021-12-01","value":31750},{"series":"Target C","date":"2021-12-07","value":31250},{"series":"Target C","date":"2021-12-14","value":30700},{"series":"Target C","date":"2021-12-17","value":30550},{"series":"Target C","date":"2021-12-21","value":30700},{"series":"Target C","date":"2021-12-31","value":31050}
    ]
  },
  "layer": [
    {
      "data": {"name": "storage"},
      "mark": {"type": "line", "strokeWidth": 6, "strokeCap": "round", "strokeJoin": "round"},
      "encoding": {
        "x": {
          "field": "date", "type": "temporal", "title": null,
          "scale": {"type": "utc", "domain": [{"year": 2021, "month": 1, "date": 1, "utc": true}, {"year": 2022, "month": 1, "date": 1, "utc": true}]},
          "axis": {
            "title": null,
            "values": [
              {"year": 2021, "month": 1, "date": 1, "utc": true}, {"year": 2021, "month": 2, "date": 1, "utc": true}, {"year": 2021, "month": 3, "date": 1, "utc": true},
              {"year": 2021, "month": 4, "date": 1, "utc": true}, {"year": 2021, "month": 5, "date": 1, "utc": true}, {"year": 2021, "month": 6, "date": 1, "utc": true},
              {"year": 2021, "month": 7, "date": 1, "utc": true}, {"year": 2021, "month": 8, "date": 1, "utc": true}, {"year": 2021, "month": 9, "date": 1, "utc": true},
              {"year": 2021, "month": 10, "date": 1, "utc": true}, {"year": 2021, "month": 11, "date": 1, "utc": true}, {"year": 2021, "month": 12, "date": 1, "utc": true},
              {"year": 2022, "month": 1, "date": 1, "utc": true}
            ],
            "labelExpr": "utcyear(datum.value) > 2021 ? '' : utcFormat(datum.value, '%-m/%-d')",
            "labelAngle": 270, "labelFontSize": 23, "labelFont": "Liberation Sans", "labelColor": "#000000", "labelPadding": 2,
            "tickSize": 8, "tickColor": "#8c8c8c", "domainColor": "#bfbfbf", "domainWidth": 2,
            "grid": true, "gridColor": "#595959", "gridWidth": 1
          }
        },
        "y": {
          "field": "value", "type": "quantitative", "title": "Acre-feet",
          "scale": {"domain": [0, 90000], "nice": false},
          "axis": {
            "title": "Acre-feet", "titleFontSize": 21, "titleFontWeight": "bold", "titleFont": "Liberation Sans", "titleColor": "#000000", "titlePadding": 16,
            "values": [0, 10000, 20000, 30000, 40000, 50000, 60000, 70000, 80000, 90000],
            "format": ",d", "labelFontSize": 23, "labelFont": "Liberation Sans", "labelColor": "#000000", "labelPadding": 12,
            "tickSize": 8, "tickColor": "#a6a6a6", "domainColor": "#a6a6a6",
            "grid": true, "gridColor": "#a6a6a6", "gridWidth": 1
          }
        },
        "color": {
          "field": "series", "type": "nominal",
          "scale": {
            "domain": ["2015", "2016", "2017", "2018", "2019", "2020", "2021", "2022", "Target A", "Target B", "Target C"],
            "range": ["#70AD47", "#FFC000", "#4472C4", "#FF0000", "#9966FF", "#ED7D31", "#00B0F0", "#000000", "#7030A0", "#808080", "#FF0000"]
          },
          "legend": {
            "title": null, "orient": "none", "legendX": 160, "legendY": 1127, "direction": "horizontal", "columns": 11,
            "symbolType": "stroke", "symbolStrokeWidth": 6, "symbolSize": 1750, "labelFontSize": 22, "labelFont": "Liberation Sans", "labelColor": "#000000",
            "labelOffset": 2, "columnPadding": 18, "padding": 4, "fillColor": "white", "strokeColor": "#808080"
          }
        },
        "strokeDash": {
          "field": "series", "type": "nominal",
          "scale": {
            "domain": ["2015", "2016", "2017", "2018", "2019", "2020", "2021", "2022", "Target A", "Target B", "Target C"],
            "range": [[1, 0], [1, 0], [1, 0], [1, 0], [1, 0], [1, 0], [1, 0], [1, 0], [11, 13], [11, 13], [11, 13]]
          },
          "legend": {
            "title": null, "orient": "none", "legendX": 160, "legendY": 1127, "direction": "horizontal", "columns": 11,
            "symbolType": "stroke", "symbolStrokeWidth": 6, "symbolSize": 1750, "labelFontSize": 22, "labelFont": "Liberation Sans", "labelColor": "#000000",
            "labelOffset": 2, "columnPadding": 18, "padding": 4, "fillColor": "white", "strokeColor": "#808080"
          }
        }
      }
    },
    {
      "data": {"name": "box"},
      "mark": {"type": "rect", "fill": "white", "stroke": "#000000", "strokeWidth": 1.5},
      "encoding": {
        "x": {"field": "start", "type": "temporal", "title": null},
        "x2": {"field": "end"},
        "y": {"field": "low", "type": "quantitative", "title": "Acre-feet"},
        "y2": {"field": "high"}
      }
    },
    {
      "data": {"name": "note"},
      "mark": {"type": "text", "fontSize": 26, "fontWeight": "bold", "font": "Liberation Sans", "align": "center", "baseline": "middle", "color": "#000000"},
      "encoding": {
        "x": {"field": "date", "type": "temporal", "title": null},
        "y": {"field": "value", "type": "quantitative", "title": "Acre-feet"},
        "text": {"field": "label"}
      }
    }
  ]
}
